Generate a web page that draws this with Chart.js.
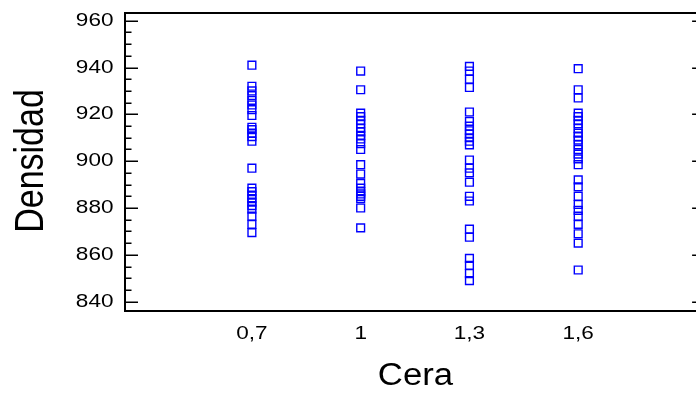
<!DOCTYPE html>
<html>
<head>
<meta charset="utf-8">
<script src="https://cdn.jsdelivr.net/npm/chart.js@4.4.1/dist/chart.umd.min.js"></script>
<style>
  html, body { margin: 0; padding: 0; background: #fff; }
  #wrap { width: 696px; height: 393px; overflow: hidden; }
  canvas { display: block; }
</style>
</head>
<body>
<div id="wrap"><canvas id="chart" width="712" height="393"></canvas></div>
<script>
// Cera levels and the density readings measured at each one
const cera = [0.7, 1, 1.3, 1.6];
const ceraLabels = ['0,7', '1', '1,3', '1,6'];
const dens07 = [941, 932, 930, 928, 926, 924, 922, 919.5, 914.5, 913.5, 912, 910.5, 908.5,
  897, 888.5, 887, 885.5, 884, 882.5, 881, 879.5, 876.5, 873, 869.5];
const dens10 = [938.5, 930.5, 920.5, 919, 917.5, 916, 914, 912.5, 911, 909.5, 907.5, 905,
  898.5, 894.5, 890.5, 888.5, 887, 886, 885, 884, 880, 871.5];
const dens13 = [940.5, 938.5, 935, 931.5, 921, 917, 915, 913, 911.5, 910, 908.5, 907,
  900.5, 897, 895, 891, 885, 883, 871, 867.5, 858.5, 855.5, 852, 849];
const dens16 = [939.5, 930.5, 927, 920.5, 919, 917.5, 916, 914, 912, 910.5, 909, 907, 905,
  903, 901, 898.5, 892, 889, 885, 881.5, 879, 876.5, 873, 869, 865, 853.5];
const yTicks = [840, 860, 880, 900, 920, 940, 960];
const yMinorStep = 5;

const groups = [dens07, dens10, dens13, dens16];
const points = [];
groups.forEach((vals, i) => vals.forEach(v => points.push({ x: cera[i], y: v })));

const FONT = '"Liberation Sans", Arial, sans-serif';

// draw text widened horizontally (the axis text is set wide)
function wideText(ctx, text, x, y, sx, align, rotate) {
  ctx.save();
  ctx.translate(x, y);
  ctx.scale(sx, 1);
  if (rotate) ctx.rotate(-Math.PI / 2);
  ctx.textAlign = align;
  ctx.textBaseline = 'alphabetic';
  ctx.fillText(text, 0, 0);
  ctx.restore();
}

// frame, inward tick marks, tick labels and axis titles
const framePlugin = {
  id: 'frame',
  afterDatasetsDraw(chart) {
    const { ctx, chartArea: a, scales } = chart;
    const ys = scales.y, xs = scales.x;
    ctx.save();
    ctx.strokeStyle = '#000';
    ctx.lineWidth = 2;
    ctx.strokeRect(a.left, a.top, a.right - a.left, a.bottom - a.top);

    ctx.lineWidth = 1.5;
    ctx.beginPath();
    for (let v = yTicks[0]; v <= yTicks[yTicks.length - 1]; v += yMinorStep) {
      const py = Math.round(ys.getPixelForValue(v)) + 0.25;
      const major = yTicks.includes(v);
      ctx.moveTo(a.left, py);
      ctx.lineTo(a.left + (major ? 13 : 6.5), py);
      if (major) {
        ctx.moveTo(a.right, py);
        ctx.lineTo(a.right - 13, py);
      }
    }
    ctx.stroke();

    ctx.fillStyle = '#000';
    ctx.font = '18.5px ' + FONT;
    yTicks.forEach(v => {
      wideText(ctx, String(v), 113.5, ys.getPixelForValue(v) + 5, 1.22, 'right');
    });
    cera.forEach((c, i) => {
      wideText(ctx, ceraLabels[i], xs.getPixelForValue(c), 338.5, 1.22, 'center');
    });

    ctx.font = '31px ' + FONT;
    wideText(ctx, 'Cera', 415.5, 385, 1.12, 'center');
    ctx.font = '34px ' + FONT;
    wideText(ctx, 'Densidad', 42.5, (a.top + a.bottom) / 2 - 1, 1.17, 'center', true);
    ctx.restore();
  }
};

new Chart(document.getElementById('chart'), {
  type: 'scatter',
  data: {
    datasets: [{
      label: 'Densidad',
      data: points,
      pointStyle: 'rect',
      pointRadius: 5.5,
      pointBorderWidth: 1.4,
      pointBorderColor: '#0000ff',
      pointBackgroundColor: 'rgba(0,0,0,0)',
      showLine: false
    }]
  },
  options: {
    responsive: false,
    animation: false,
    events: [],
    layout: { padding: { left: 125, top: 13, right: 4, bottom: 82 } },
    scales: {
      x: { type: 'linear', min: 0.35, max: 1.95, display: false },
      y: { type: 'linear', min: 836, max: 963.3, display: false }
    },
    plugins: {
      legend: { display: false },
      tooltip: { enabled: false }
    }
  },
  plugins: [framePlugin]
});
</script>
</body>
</html>
